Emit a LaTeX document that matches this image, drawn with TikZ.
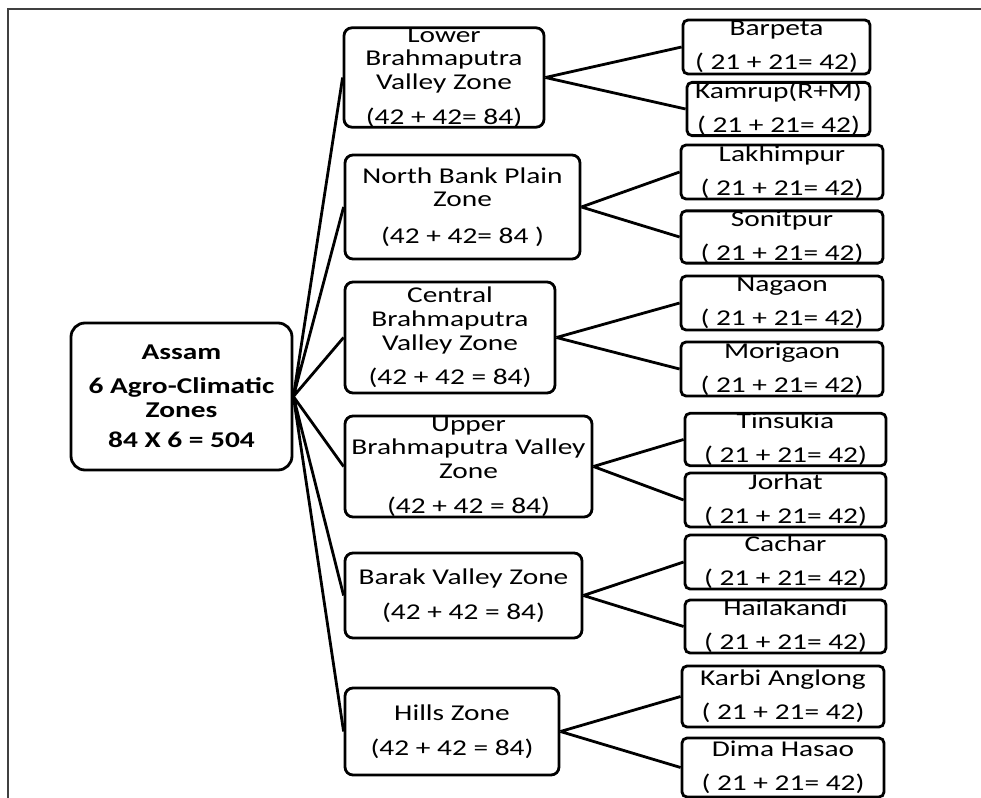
\documentclass[tikz,border=0pt]{standalone}
\usepackage{fontspec}
\setmainfont{Carlito}[FakeStretch=1.3]
\usepackage{tikz}

\begin{document}
\begin{tikzpicture}[x=0.5pt,y=-0.5pt,font=\fontsize{11.3}{11.8}\selectfont,
  wh/.style 2 args={minimum width=#1*0.5pt,minimum height=#2*0.5pt},
  zone/.style={draw,line width=1.4pt,rounded corners=4pt,align=center,inner sep=0pt},
  dist/.style={zone,rounded corners=2.5pt},
  link/.style={line width=1.4pt}]
\useasboundingbox (0,0) rectangle (981,798);
\draw[line width=1pt,black!75] (8,798) -- (8,9) -- (981,9);
\node[zone,wh={221}{147},rounded corners=7pt,font=\bfseries\fontsize{11.3}{11.8}\selectfont] (assam) at (181.5,396.5) {Assam\\[5pt]6 Agro-Climatic\\Zones\\[3.5pt]84 X 6 = 504};
\node[zone,wh={200}{99}] (lower) at (444,77.5) {Lower\\Brahmaputra\\Valley Zone\\[5.5pt](42 + 42= 84)};
\node[zone,wh={235}{104}] (north) at (462.5,207) {North Bank Plain\\Zone\\[6.5pt](42 + 42= 84 )};
\node[zone,wh={210}{111}] (central) at (450,337.5) {Central\\Brahmaputra\\Valley Zone\\[5.5pt](42 + 42 = 84)};
\node[zone,wh={247}{101}] (upper) at (468.5,466.5) {Upper\\Brahmaputra Valley\\Zone\\[5.5pt](42 + 42 = 84)};
\node[zone,wh={237}{85}] (barak) at (463.5,595.5) {Barak Valley Zone\\[5.5pt](42 + 42 = 84)};
\node[zone,wh={214}{87}] (hills) at (452,731.5) {Hills Zone\\[5.5pt](42 + 42 = 84)};
\node[dist,wh={187}{54}] (barpeta) at (776.5,47) {Barpeta\\[5pt]( 21 + 21= 42)};
\node[dist,wh={183}{52}] (kamrup) at (778.5,109) {Kamrup(R+M)\\[5pt]( 21 + 21= 42)};
\node[dist,wh={202}{54}] (lakhimpur) at (782,172) {Lakhimpur\\[5pt]( 21 + 21= 42)};
\node[dist,wh={202}{52}] (sonitpur) at (782,237) {Sonitpur\\[5pt]( 21 + 21= 42)};
\node[dist,wh={202}{54}] (nagaon) at (782,303) {Nagaon\\[5pt]( 21 + 21= 42)};
\node[dist,wh={202}{54}] (morigaon) at (782,369) {Morigaon\\[5pt]( 21 + 21= 42)};
\node[dist,wh={201}{51}] (tinsukia) at (785.5,439.5) {Tinsukia\\[5pt]( 21 + 21= 42)};
\node[dist,wh={201}{54}] (jorhat) at (785.5,500) {Jorhat\\[5pt]( 21 + 21= 42)};
\node[dist,wh={201}{54}] (cachar) at (785.5,562) {Cachar\\[5pt]( 21 + 21= 42)};
\node[dist,wh={201}{53}] (hailakandi) at (785.5,626.5) {Hailakandi\\[5pt]( 21 + 21= 42)};
\node[dist,wh={202}{61}] (karbi) at (783,696.5) {Karbi Anglong\\[5pt]( 21 + 21= 42)};
\node[dist,wh={202}{59}] (dima) at (783,767.5) {Dima Hasao\\[5pt]( 21 + 21= 42)};
\draw[link] (assam.east) -- (lower.west) (assam.east) -- (north.west)
  (assam.east) -- (central.west) (assam.east) -- (upper.west)
  (assam.east) -- (barak.west) (assam.east) -- (hills.west);
\draw[link] (lower.east) -- (barpeta.west) (lower.east) -- (kamrup.west);
\draw[link] (north.east) -- (lakhimpur.west) (north.east) -- (sonitpur.west);
\draw[link] (central.east) -- (nagaon.west) (central.east) -- (morigaon.west);
\draw[link] (upper.east) -- (tinsukia.west) (upper.east) -- (jorhat.west);
\draw[link] (barak.east) -- (cachar.west) (barak.east) -- (hailakandi.west);
\draw[link] (hills.east) -- (karbi.west) (hills.east) -- (dima.west);
\end{tikzpicture}
\end{document}
